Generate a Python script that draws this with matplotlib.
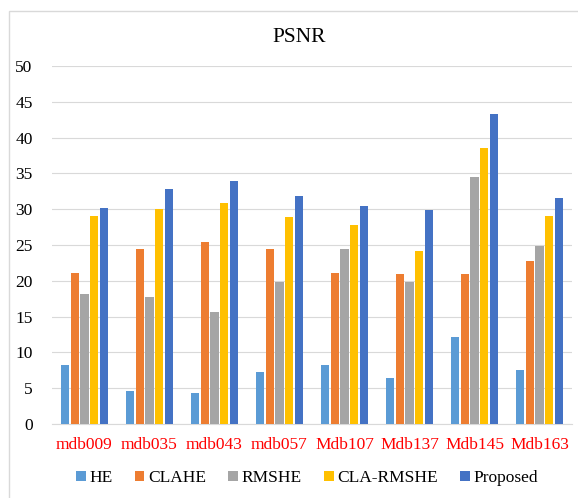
import numpy as np
import matplotlib.pyplot as plt
from matplotlib.patches import Rectangle

plt.rcParams['font.family'] = ['Liberation Serif', 'DejaVu Serif']

images = ['mdb009', 'mdb035', 'mdb043', 'mdb057', 'Mdb107', 'Mdb137', 'Mdb145', 'Mdb163']
he = [8.3, 4.6, 4.3, 7.3, 8.3, 6.4, 12.2, 7.6]
clahe = [21.1, 24.4, 25.4, 24.5, 21.1, 21.0, 20.9, 22.7]
rmshe = [18.2, 17.7, 15.6, 19.8, 24.5, 19.9, 34.5, 24.9]
cla_rmshe = [29.0, 30.0, 30.8, 28.9, 27.8, 24.2, 38.6, 29.1]
proposed = [30.2, 32.8, 33.9, 31.9, 30.4, 29.9, 43.3, 31.5]

series = [('HE', he, '#5B9BD5'),
          ('CLAHE', clahe, '#ED7D31'),
          ('RMSHE', rmshe, '#A5A5A5'),
          ('CLA-RMSHE', cla_rmshe, '#FFC000'),
          ('Proposed', proposed, '#4472C4')]

fig = plt.figure(figsize=(5.78, 4.98), dpi=100)
# chart border (cut off at right/bottom like the screenshot)
fig.patches.append(Rectangle((9 / 578, -0.1), 1.0, 1.1 - 11 / 498, transform=fig.transFigure,
                             fill=False, edgecolor='#D9D9D9', linewidth=1.0))

ax = fig.add_axes([52 / 578, 1 - 424 / 498, 520 / 578, 358 / 498])
x = np.arange(len(images))
slot = 0.148
w = 0.126
for i, (name, vals, col) in enumerate(series):
    ax.bar(x + (i - 2) * slot, vals, width=w, color=col, label=name, zorder=3)

ax.set_xlim(-0.5, len(images) - 0.5)
ax.set_ylim(0, 50)
ax.set_yticks(range(0, 51, 5))
ax.set_xticks(x)
ax.set_xticklabels(images, color='#FF0000', fontsize=12.5)
ax.tick_params(axis='y', labelsize=12.5, length=0, pad=14)
ax.tick_params(axis='x', length=0, pad=9)
ax.grid(axis='y', color='#D9D9D9', linewidth=0.8, zorder=0)
for s in ['top', 'right', 'left']:
    ax.spines[s].set_visible(False)
ax.spines['bottom'].set_color('#D9D9D9')

fig.text(299 / 578, 1 - 37 / 498, 'PSNR', ha='center', va='center', fontsize=15.5)

fig.legend(loc='center', bbox_to_anchor=(307 / 578, 1 - 478 / 498), ncol=5, frameon=False,
           fontsize=12.5, handlelength=0.55, handleheight=0.55, handletextpad=0.2, columnspacing=1.3)

fig.savefig('out.png', dpi=100)
